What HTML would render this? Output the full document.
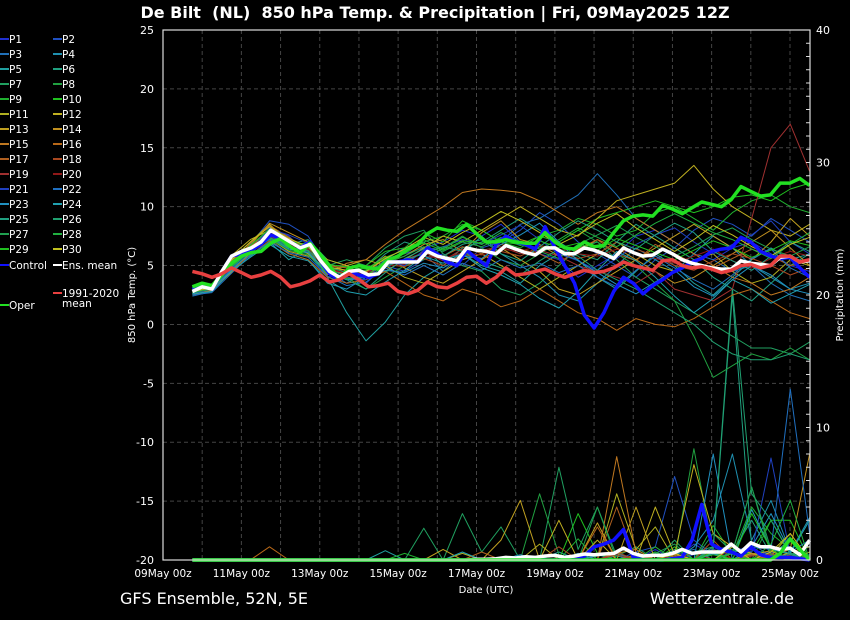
<!DOCTYPE html>
<html><head><meta charset="utf-8">
<style>
html,body{margin:0;padding:0;background:#000;}
svg{display:block;font-family:"DejaVu Sans","Liberation Sans",sans-serif;}
</style></head>
<body>
<svg id="chart" width="850" height="620" viewBox="0 0 850 620">
<rect x="0" y="0" width="850" height="620" fill="#000"/>
<text x="435" y="18" fill="#fff" font-size="16" font-weight="bold" text-anchor="middle" style="white-space:pre" xml:space="preserve">De Bilt  (NL)  850 hPa Temp. &amp; Precipitation | Fri, 09May2025 12Z</text>
<g id="grid"></g>
<g id="series"></g>
<g id="axes"></g>
<g id="legend"></g>
<text x="486" y="593" fill="#fff" font-size="10" text-anchor="middle">Date (UTC)</text>
<text transform="translate(135,295) rotate(-90)" fill="#fff" font-size="10" text-anchor="middle">850 hPa Temp. (°C)</text>
<text transform="translate(843,295) rotate(-90)" fill="#fff" font-size="10" text-anchor="middle">Precipitation (mm)</text>
<text x="120" y="604" fill="#fff" font-size="16">GFS Ensemble, 52N, 5E</text>
<text x="794" y="604" fill="#fff" font-size="16" text-anchor="end">Wetterzentrale.de</text>
</svg>
<script>
const xTickLabels=["09May 00z","11May 00z","13May 00z","15May 00z","17May 00z","19May 00z","21May 00z","23May 00z","25May 00z"];
const yTicksLeft=[-20,-15,-10,-5,0,5,10,15,20,25];
const yTicksRight=[0,10,20,30,40];
const ensMean=[2.8,3.2,3.0,4.5,5.8,6.2,6.5,7.0,8.0,7.5,7.0,6.5,6.8,5.5,4.5,4.0,4.5,4.6,4.2,4.3,5.3,5.3,5.3,5.3,6.2,5.8,5.6,5.4,6.5,6.3,6.2,6.0,6.7,6.4,6.1,5.9,6.5,6.5,6.0,6.0,6.5,6.3,6.0,5.6,6.5,6.1,5.8,5.9,6.4,6.0,5.5,5.2,5.0,4.8,4.7,4.7,5.4,5.2,5.1,5.0,5.7,5.8,5.3,5.4];
const climMean=[4.5,4.3,4.0,4.3,4.8,4.4,4.0,4.2,4.5,4.0,3.2,3.4,3.7,4.2,3.6,3.8,4.3,3.8,3.2,3.3,3.5,2.8,2.6,2.9,3.6,3.2,3.1,3.5,4.0,4.1,3.5,4.0,4.8,4.2,4.3,4.5,4.7,4.3,4.0,4.3,4.6,4.4,4.5,4.8,5.3,5.0,4.8,4.6,5.4,5.5,5.0,4.8,4.9,4.7,4.4,4.6,5.0,5.1,4.8,5.0,5.8,5.8,5.3,5.5];
const control=[3.0,3.3,3.0,4.5,5.8,6.0,6.3,6.8,7.6,7.3,7.0,6.5,7.0,5.5,4.3,3.8,4.5,4.2,4.0,4.3,5.3,5.3,5.5,5.3,6.5,6.0,5.3,5.0,6.3,5.6,5.0,6.8,7.5,7.0,6.8,6.4,8.3,6.5,5.0,3.5,0.8,-0.3,1.0,2.8,4.0,3.5,2.6,3.3,3.8,4.4,4.8,5.3,5.6,6.2,6.4,6.5,7.4,7.0,6.2,5.8,5.6,5.7,4.8,4.0];
const oper=[3.2,3.5,3.3,4.2,5.2,5.8,6.1,6.2,6.9,7.3,6.6,6.1,6.9,6.0,5.0,3.8,4.8,5.0,4.8,4.7,5.5,5.8,6.4,6.8,7.7,8.2,8.0,7.9,8.5,7.7,7.0,7.0,7.2,7.0,6.9,6.9,7.8,7.0,6.5,6.4,7.0,6.6,6.7,7.8,8.8,9.2,9.3,9.2,10.1,9.8,9.4,9.9,10.4,10.2,10.0,10.6,11.7,11.3,10.9,11.0,12.0,12.0,12.4,11.8];
const precipMean=[0,0,0,0,0,0,0,0,0,0,0,0,0,0,0,0,0,0,0,0,0,0,0,0,0,0,0,0,0,0.05,0.05,0.1,0.2,0.15,0.25,0.2,0.3,0.35,0.2,0.3,0.45,0.4,0.45,0.5,0.9,0.5,0.3,0.35,0.35,0.5,0.8,0.5,0.6,0.6,0.6,1.2,0.6,1.3,1.0,1.0,0.8,0.9,0.4,1.5];
const precipControl=[0,0,0,0,0,0,0,0,0,0,0,0,0,0,0,0,0,0,0,0,0,0,0,0,0,0,0,0,0,0,0,0,0,0,0,0,0,0,0,0,0.3,1.0,1.2,1.5,2.3,0.2,0,0,0,0.1,0.2,1.5,4.2,1.2,0.8,0.6,0.3,1.0,0.4,0.2,0.2,0.2,0.1,0];
const precipOper=[0,0,0,0,0,0,0,0,0,0,0,0,0,0,0,0,0,0,0,0,0,0,0,0,0,0,0,0,0,0,0,0,0,0,0,0,0,0,0,0,0,0,0,0,0,0,0,0,0,0,0,0,0,0,0,0,0,0,0,0,0.5,1.6,0.8,0];
const memberNames=["P1","P2","P3","P4","P5","P6","P7","P8","P9","P10","P11","P12","P13","P14","P15","P16","P17","P18","P19","P20","P21","P22","P23","P24","P25","P26","P27","P28","P29","P30"];
const memberColors=["#2030d0","#2050c0","#2070b8","#1f90b0","#20a0a0","#20a080","#20a060","#20a040","#20b030","#20c020","#b0b020","#c0b020","#c0a020","#c09020","#c07820","#b86818","#b06020","#a84820","#a03030","#901818","#2040c0","#2070c0","#2090c0","#20a0b0","#20a080","#20a070","#20a050","#20b040","#20c020","#c0c020"];
const memberTemps=[
[2.6,3.0,5.0,6.5,8.2,7.5,6.0,4.0,4.5,4.0,5.5,6.0,6.5,7.0,8.0,7.5,8.5,7.0,6.0,5.5,4.0,5.0,6.0,7.5,8.0,7.0,6.0,5.5,6.5,7.0,6.0,5.0,4.5],
[2.9,3.1,4.6,6.8,8.8,8.5,7.5,5.0,4.0,3.5,5.0,4.5,5.5,6.0,5.0,6.5,7.0,8.0,9.5,8.5,7.0,6.0,5.0,4.0,5.5,6.5,8.0,9.0,8.5,7.5,9.0,8.0,7.0],
[2.4,2.8,4.5,6.0,7.5,6.5,7.0,4.5,3.5,4.5,5.0,5.5,6.0,4.5,6.0,5.5,7.0,8.5,9.0,10.0,11.0,12.8,11.0,9.0,8.0,7.0,6.0,5.5,4.5,5.0,3.5,2.5,2.0],
[2.7,3.2,5.2,6.2,7.2,6.0,5.5,3.5,3.0,4.0,5.5,6.5,7.0,5.5,6.0,7.5,6.0,5.0,4.0,2.5,2.0,3.5,5.0,6.5,5.5,4.5,6.0,7.5,6.5,5.0,4.0,3.0,3.5],
[2.5,2.9,4.8,5.8,7.0,5.5,6.5,4.0,1.0,-1.4,0.2,2.5,4.0,5.0,6.0,5.0,4.5,3.5,5.0,6.0,5.5,4.0,3.0,4.5,6.0,5.0,3.5,2.5,4.0,5.5,6.5,5.5,6.0],
[3.0,3.3,4.9,6.4,7.6,6.8,7.2,5.5,5.0,4.5,6.0,7.0,6.5,5.0,6.5,7.0,8.0,9.0,8.0,7.0,6.0,5.5,7.0,8.5,7.5,6.5,5.5,4.0,3.0,2.0,3.5,5.0,6.0],
[2.8,3.0,5.1,6.6,8.0,7.0,6.4,5.0,5.5,5.0,6.5,7.5,8.0,6.0,5.0,4.5,3.0,2.5,3.5,5.0,6.5,7.0,5.5,4.0,3.0,2.0,1.0,0.0,-1.0,-2.0,-2.0,-2.5,-1.5],
[2.6,2.8,4.7,6.0,7.4,6.5,6.0,4.5,4.0,3.0,4.0,5.0,5.5,6.5,7.5,6.5,5.5,5.0,6.0,7.0,8.0,7.0,6.0,5.0,3.5,2.0,-1.0,-4.5,-3.5,-2.5,-3.0,-2.0,-3.0],
[3.1,3.4,5.3,6.5,7.8,7.0,6.8,5.2,4.5,4.8,5.5,6.0,7.0,7.5,8.5,8.0,7.0,6.5,7.5,8.0,9.0,8.5,7.5,8.0,9.5,10.0,9.0,8.0,9.5,10.5,11.0,10.0,9.5],
[3.2,3.3,5.0,6.3,8.0,7.2,6.5,5.0,4.8,5.0,6.2,6.5,7.8,7.0,8.8,8.0,7.0,6.8,7.5,7.0,8.0,9.0,9.5,10.0,10.5,10.0,9.5,10.0,10.8,11.0,10.5,11.5,12.0],
[2.7,3.0,5.5,7.0,8.5,7.0,6.0,4.5,5.0,5.5,5.0,4.0,3.5,4.5,5.5,6.0,5.0,4.0,3.0,4.0,5.0,6.0,7.0,6.0,5.0,4.5,5.5,6.0,4.5,3.5,4.0,5.5,5.0],
[2.8,3.2,5.8,7.2,8.0,6.5,6.8,5.5,5.0,4.0,4.5,5.5,6.5,7.5,7.0,8.0,9.0,10.0,9.0,8.0,7.5,9.0,10.5,11.0,11.5,12.0,13.5,11.5,10.0,9.0,8.0,7.5,8.5],
[2.5,2.9,4.4,6.1,7.3,6.2,5.8,4.8,4.2,4.6,5.8,4.8,4.0,3.5,4.5,5.5,6.5,5.5,4.5,3.0,2.5,3.5,4.5,5.5,6.5,7.5,8.5,7.5,6.5,5.5,7.0,9.0,7.5],
[2.9,3.3,5.2,6.7,8.6,7.8,7.0,5.2,4.5,4.2,5.2,5.8,6.8,7.2,6.2,7.8,8.8,7.2,6.8,5.8,6.2,7.2,6.5,5.5,4.5,3.5,4.0,5.0,6.0,7.0,8.0,6.5,5.0],
[2.6,3.1,4.9,6.9,8.4,7.4,6.2,4.2,5.2,5.5,6.8,8.0,9.0,10.0,11.2,11.5,11.4,11.2,10.5,9.5,8.5,9.5,10.0,9.0,8.0,7.0,6.0,5.0,4.0,3.5,2.5,3.0,4.0],
[2.7,2.9,4.6,5.9,7.1,6.0,5.5,4.0,3.5,3.8,4.5,3.5,2.5,2.0,3.0,2.5,1.5,2.0,3.0,2.0,1.0,0.5,-0.5,0.5,0.0,-0.2,0.5,1.5,2.5,3.0,2.0,1.0,0.5],
[3.0,3.2,5.4,6.6,7.9,7.2,6.6,5.0,4.8,4.4,5.6,5.2,6.2,5.8,6.6,6.0,6.8,6.4,6.0,5.2,6.4,7.2,6.0,5.4,6.8,6.0,5.2,4.8,5.6,6.4,5.8,5.0,5.4],
[2.8,3.1,5.0,6.4,7.7,6.9,6.3,4.7,4.6,4.1,5.1,4.9,5.6,5.0,6.0,5.6,6.2,5.8,6.6,6.2,5.6,6.0,7.0,6.4,5.8,5.0,4.6,5.4,6.0,5.6,5.0,4.2,4.8],
[2.9,3.0,5.1,6.5,7.8,6.8,6.5,4.6,4.4,4.2,5.3,5.5,6.1,5.4,6.4,6.3,6.6,6.0,6.3,5.8,5.0,4.5,4.0,3.5,4.5,3.0,2.5,2.0,3.0,9.0,15.0,17.0,13.0],
[2.7,3.1,4.8,6.2,7.5,6.7,6.4,4.8,4.3,4.4,5.0,5.1,5.8,5.6,6.1,5.9,6.4,6.2,6.7,6.4,6.0,5.8,6.4,6.0,5.6,5.2,5.8,6.4,5.4,4.8,5.6,6.2,5.8],
[2.6,3.0,4.7,6.3,8.1,7.6,6.9,4.4,4.0,3.8,5.4,5.0,6.3,6.6,7.2,6.8,7.6,8.4,7.2,6.0,5.4,4.6,5.6,6.8,7.6,8.2,7.0,6.0,6.8,7.6,8.8,7.0,6.0],
[2.5,2.7,4.3,5.9,7.0,6.1,5.7,4.1,3.3,3.6,4.8,4.2,5.0,4.2,5.2,4.6,5.5,4.8,5.2,4.4,5.0,4.0,3.2,4.6,5.8,4.8,3.8,3.0,4.2,5.6,6.4,4.8,4.0],
[2.7,3.0,4.6,6.1,7.4,6.4,6.1,4.3,3.8,4.0,4.6,4.4,5.2,4.8,5.8,5.6,6.8,7.6,8.6,7.0,5.4,4.4,3.4,2.6,3.6,4.6,3.2,2.4,3.8,5.0,4.2,3.0,2.6],
[2.6,2.8,4.5,5.7,6.8,5.8,5.4,3.8,2.8,2.5,3.6,4.6,5.8,5.2,6.0,4.8,4.2,3.4,2.2,1.4,2.8,4.6,6.2,5.4,4.0,2.4,1.0,2.2,3.8,3.0,1.8,2.6,3.4],
[2.8,3.1,5.0,6.3,7.6,6.6,6.2,4.4,3.8,3.0,4.4,5.6,6.4,5.8,6.8,7.2,6.0,5.4,6.6,7.8,8.8,8.0,7.0,6.4,7.6,8.6,7.8,6.2,5.4,4.6,5.8,7.0,6.2],
[2.9,3.2,4.8,6.2,7.4,6.5,6.3,4.9,4.4,4.0,4.9,5.5,6.0,6.6,6.2,5.4,4.8,4.2,5.4,6.4,5.8,4.6,3.8,3.0,2.0,1.0,0.0,-1.5,-2.5,-3.0,-3.0,-2.5,-3.0],
[3.0,3.3,5.1,6.5,7.7,6.9,6.6,4.6,4.2,4.6,5.2,5.8,6.6,6.2,7.0,6.6,7.4,6.8,6.2,5.6,6.8,7.6,8.4,7.4,6.6,5.8,6.6,7.6,8.2,7.2,6.4,5.8,6.6],
[2.7,3.0,4.9,6.3,7.3,6.3,5.9,4.3,3.9,4.1,5.4,6.2,7.2,6.4,7.4,6.8,7.8,7.0,6.4,7.2,8.2,7.4,6.6,7.6,8.6,9.4,8.6,7.8,7.2,6.4,5.6,6.8,7.8],
[3.1,3.4,5.2,6.7,8.1,7.1,6.7,5.1,4.9,4.7,5.7,6.3,6.9,6.3,7.1,6.9,7.3,6.7,7.1,6.5,6.9,6.3,7.3,6.7,6.1,5.5,6.3,7.1,6.5,5.7,6.3,7.1,6.7],
[2.8,3.1,5.4,7.0,8.3,7.3,6.6,4.9,4.6,4.5,5.6,6.4,7.4,6.8,7.8,8.6,9.6,8.8,7.8,6.8,7.6,8.6,9.4,8.2,7.2,6.2,7.2,8.4,7.6,6.6,5.8,6.8,7.4]
];
const memberPrecip=[
[0,0,0,0,0,0,0,0,0,0,0,0,0,0,0,0,0,0,0,0,0,0,0.5,0,0.8,0,1.2,0.4,0.6,0.8,0.4,0,0.2],
[0,0,0,0,0,0,0,0,0,0,0,0,0,0,0,0,0,0,0,0,0,0,0,0.6,1.0,6.3,1.5,0.4,0.8,0.3,0.6,0.2,0],
[0,0,0,0,0,0,0,0,0,0,0,0,0,0,0,0,0,0,0,0,0,0,0,0,0,0.4,0.8,0,0.5,1.2,0.3,0,0.4],
[0,0,0,0,0,0,0,0,0,0,0,0,0,0,0,0,0,0,0,0,0,0.3,0.5,0,0.6,0,1.0,3.0,8.0,1.5,4.5,0.6,3.2],
[0,0,0,0,0,0,0,0,0,0,0.7,0,0,0,0,0,0,0,0,0.6,0,0.4,0,0.3,0,0.8,0.6,0,1.0,0.4,0.3,0.8,0.2],
[0,0,0,0,0,0,0,0,0,0,0,0,0,0,0,0,0,0,0,0,0,0,0.3,0,0,0.5,0.6,1.0,0.6,3.0,0.4,1.5,0],
[0,0,0,0,0,0,0,0,0,0,0,0,2.4,0,3.5,0.6,2.5,0,0,7.0,0.8,4.0,0.3,1.0,0,1.5,0,2.0,0.6,5.5,0.8,0.4,1.0],
[0,0,0,0,0,0,0,0,0,0,0,0,0,0,0,0,0,0,5.0,0.4,0,0,0,0,0,0,8.4,0.6,1.2,0,3.0,0.5,0.3],
[0,0,0,0,0,0,0,0,0,0,0,0.5,0,0,0,0,0,0,0,0,1.6,0,0,0,0.6,0,0,2.6,0.4,4.0,2.0,0.8,0],
[0,0,0,0,0,0,0,0,0,0,0,0,0,0,0,0,0,0.3,0,0,3.5,0.5,0,0,0,1.0,0,0.4,0,0.6,3.0,3.0,0],
[0,0,0,0,0,0,0,0,0,0,0,0,0,0,0.5,0,0,0,1.2,0,0,0,5.0,0.8,2.5,0,0,0.6,0,0.5,0.3,2.0,0],
[0,0,0,0,0,0,0,0,0,0,0,0,0,0,0,0,0,0,0,3.0,0,1.5,0,0,4.0,0.4,7.2,2.0,1.0,0.5,0,0.6,1.0],
[0,0,0,0,0,0,0,0,0,0,0,0,0,0.8,0,0,1.5,4.5,0,0,0,2.8,0,4.0,0,0.5,0,0.8,0,0.4,0.7,0,0.6],
[0,0,0,0,0,0,0,0,0,0,0,0,0,0,0,0,0,0,0,0,0,0,0.5,0.8,0,0.4,0,0.6,0,0.5,0.3,0.8,8.0],
[0,0,0,0,0,0,0,0,0,0,0,0,0,0,0,0,0,0,0,0,0.5,0,7.8,0.5,0,0,0,0,0.6,0,0.3,0,0],
[0,0,0,0,1.0,0,0,0,0,0,0,0,0,0,0,0,0,0,0,0,0,2.5,0,0.4,0,0.3,0,0,0.5,0,0,0.4,0],
[0,0,0,0,0,0,0,0,0,0,0,0,0,0,0,0.6,0,0,0,0,0,0,4.0,0,0,0.5,0,0,0,0.4,0,0,0.3],
[0,0,0,0,0,0,0,0,0,0,0,0,0,0,0,0,0,0,0,1.0,0,0,0.6,0,0.3,0,0,1.5,0,0,0.5,0,0],
[0,0,0,0,0,0,0,0,0,0,0,0,0,0,0,0,0,0,0,0,0,0,0.4,0,0,0,0.6,0,0,0.3,0.4,0,0],
[0,0,0,0,0,0,0,0,0,0,0,0,0,0,0,0,0,0,0,0,0,0,0,0,0.4,0,0,0.8,0,0,0,0.3,0],
[0,0,0,0,0,0,0,0,0,0,0,0,0,0,0,0,0,0,0,0,0,0,0,0,0,0,0.4,0.8,1.0,0.6,7.7,0.4,0],
[0,0,0,0,0,0,0,0,0,0,0,0,0,0,0,0,0,0,0,0,0,0,0,0,0,0,0,0,0.6,1.0,0.8,12.9,2.0],
[0,0,0,0,0,0,0,0,0,0,0,0,0,0,0,0,0,0.4,0,0,0.5,0,0,0,0,0,0,8.0,0,1.0,3.5,0.6,1.5],
[0,0,0,0,0,0,0,0,0,0,0,0,0,0,0.6,0,0,0,0,0,0,0,0,0,0,0,0,0.5,0,3.8,0.8,0.5,3.0],
[0,0,0,0,0,0,0,0,0,0,0,0,0,0,0,0,0,0,0,0,0,0,0,0,0,0,0,0.8,20.0,1.0,0,0.5,0],
[0,0,0,0,0,0,0,0,0,0,0,0,0,0,0,0,0,0,0,0,0,0,0,0,0,0,0,1.0,20.5,5.0,3.0,0.4,0],
[0,0,0,0,0,0,0,0,0,0,0,0,0,0,0,0,0,0,0,0,0,4.0,0,0,0.5,1.2,0,0,0.6,5.5,0.4,0,0],
[0,0,0,0,0,0,0,0,0,0,0,0,0,0,0,0,0,0,0,0,0,0,0,0,1.0,0,0,0,0.5,0,1.2,4.5,0],
[0,0,0,0,0,0,0,0,0,0,0,0,0,0,0,0,0,0,0,0,0,0,0,0,0,0,0,0.6,0,3.5,0.8,0,0],
[0,0,0,0,0,0,0,0,0,0,0,0,0,0,0,0,0,0,0,0,0,0,0,0,0,0.5,0,0,1.0,0,0.6,2.0,0]
];

const NS="http://www.w3.org/2000/svg";
const PL=163,PR=810,PT=30,PB=560;
const DAY=(790-163)/16;
const xDay=d=>PL+d*DAY;
const yT=t=>PB-(t+20)*(PB-PT)/45;
const yP=p=>PB-p*(PB-PT)/40;
const day6=i=>0.75+0.25*i;
const dayM=(i,n)=>0.75+i*(15.75/(n-1));
function el(tag,attrs,parent){const e=document.createElementNS(NS,tag);for(const k in attrs)e.setAttribute(k,attrs[k]);parent.appendChild(e);return e;}
const grid=document.getElementById('grid'),series=document.getElementById('series'),axes=document.getElementById('axes'),legend=document.getElementById('legend');

for(let d=1;d<=16;d++){const g=el('line',{x1:xDay(d),x2:xDay(d),y1:PT,y2:PB,stroke:'#444','stroke-dasharray':'4,3','stroke-width':1},grid);

}
yTicksLeft.forEach(t=>{const g=el('line',{x1:PL,x2:PR,y1:yT(t),y2:yT(t),stroke:'#444','stroke-dasharray':'4,3','stroke-width':1},grid);

});

function poly(vals,xf,yf,color,w,name){const pts=vals.map((v,i)=>xf(i,vals.length).toFixed(1)+','+yf(v).toFixed(1)).join(' ');
const p=el('polyline',{points:pts,fill:'none',stroke:color,'stroke-width':w,'stroke-linejoin':'round'},series);

}
const xm=(i,n)=>xDay(dayM(i,n)),x6=(i)=>xDay(day6(i));
const yPc=v=>Math.max(PT,yP(v));
memberPrecip.forEach((s,k)=>poly(s,xm,yPc,memberColors[k],1,'precip-'+memberNames[k].toLowerCase()));
memberTemps.forEach((s,k)=>poly(s,xm,yT,memberColors[k],1,'temp-'+memberNames[k].toLowerCase()));
poly(precipControl,x6,yP,'#1010ff',3.5,'precip-control');
poly(precipMean,x6,yP,'#ffffff',3.5,'precip-ens-mean');
poly(precipOper,x6,yP,'#22e022',3.5,'precip-oper');
poly(control,x6,yT,'#1010ff',3.5,'temp-control');
poly(oper,x6,yT,'#22e022',3.5,'temp-oper');
poly(ensMean,x6,yT,'#ffffff',3.5,'temp-ens-mean');
poly(climMean,x6,yT,'#e84040',3.5,'temp-climatology');

const fr=el('rect',{x:PL,y:PT,width:PR-PL,height:PB-PT,fill:'none',stroke:'#ddd','stroke-width':1.2},axes);


yTicksLeft.forEach(t=>{const tx=el('text',{x:154,y:yT(t)+4,fill:'#fff','font-size':11,'text-anchor':'end'},axes);tx.textContent=t;

});
yTicksRight.forEach(t=>{const tx=el('text',{x:816,y:yP(t)+4,fill:'#fff','font-size':11},axes);tx.textContent=t;

});
for(let m=1;m<40;m++){const tk=el('line',{x1:PR-4,x2:PR,y1:yP(m),y2:yP(m),stroke:'#ddd','stroke-width':1},axes);

}
xTickLabels.forEach((l,i)=>{const tx=el('text',{x:xDay(i*2),y:577,fill:'#fff','font-size':10.5,'text-anchor':'middle'},axes);tx.textContent=l;

});

function legItem(x,y,color,label,name){const l=el('line',{x1:x,x2:x+9,y1:y,y2:y,stroke:color,'stroke-width':2},legend);


const t=el('text',{x:x+9,y:y+4,fill:'#fff','font-size':10.5},legend);t.textContent=label;

return t;}
memberNames.forEach((n,k)=>{const col=k%2,row=Math.floor(k/2);legItem(col?53:0,39+row*15,memberColors[k],n,'legend-'+n.toLowerCase());});
legItem(0,265,'#1010ff','Control','legend-control');
legItem(53,265,'#ffffff','Ens. mean','legend-ens-mean');
const c=legItem(53,293,'#e84040','1991-2020','legend-climatology');
const c2=el('text',{x:62,y:307,fill:'#fff','font-size':10.5},legend);c2.textContent='mean';


legItem(0,305,'#22e022','Oper','legend-oper');
</script>
</body></html>
